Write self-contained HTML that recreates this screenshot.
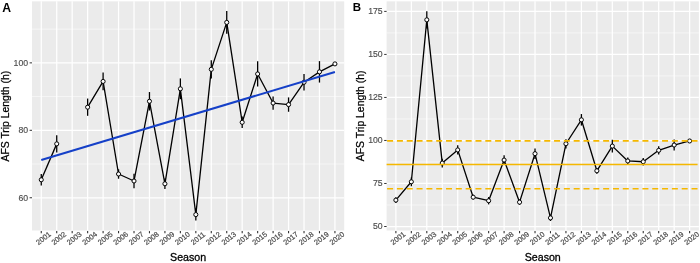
<!DOCTYPE html>
<html><head><meta charset="utf-8"><title>AFS Trip Length</title>
<style>html,body{margin:0;padding:0;background:#fff;}body{width:700px;height:263px;overflow:hidden;}svg{display:block;will-change:transform;}</style>
</head><body>
<svg width="700" height="263" viewBox="0 0 700 263">
<rect width="700" height="263" fill="#fff"/>
<rect x="32.00" y="1.35" width="312.20" height="229.15" fill="#EBEBEB"/>
<line x1="32.00" x2="344.20" y1="164.03" y2="164.03" stroke="#fff" stroke-width="0.55"/>
<line x1="32.00" x2="344.20" y1="96.59" y2="96.59" stroke="#fff" stroke-width="0.55"/>
<line x1="32.00" x2="344.20" y1="29.15" y2="29.15" stroke="#fff" stroke-width="0.55"/>
<line x1="32.00" x2="344.20" y1="197.75" y2="197.75" stroke="#fff" stroke-width="1.25"/>
<line x1="32.00" x2="344.20" y1="130.31" y2="130.31" stroke="#fff" stroke-width="1.25"/>
<line x1="32.00" x2="344.20" y1="62.87" y2="62.87" stroke="#fff" stroke-width="1.25"/>
<line x1="41.27" x2="41.27" y1="1.35" y2="230.50" stroke="#fff" stroke-width="1.25"/>
<line x1="56.73" x2="56.73" y1="1.35" y2="230.50" stroke="#fff" stroke-width="1.25"/>
<line x1="72.18" x2="72.18" y1="1.35" y2="230.50" stroke="#fff" stroke-width="1.25"/>
<line x1="87.64" x2="87.64" y1="1.35" y2="230.50" stroke="#fff" stroke-width="1.25"/>
<line x1="103.10" x2="103.10" y1="1.35" y2="230.50" stroke="#fff" stroke-width="1.25"/>
<line x1="118.55" x2="118.55" y1="1.35" y2="230.50" stroke="#fff" stroke-width="1.25"/>
<line x1="134.01" x2="134.01" y1="1.35" y2="230.50" stroke="#fff" stroke-width="1.25"/>
<line x1="149.46" x2="149.46" y1="1.35" y2="230.50" stroke="#fff" stroke-width="1.25"/>
<line x1="164.92" x2="164.92" y1="1.35" y2="230.50" stroke="#fff" stroke-width="1.25"/>
<line x1="180.37" x2="180.37" y1="1.35" y2="230.50" stroke="#fff" stroke-width="1.25"/>
<line x1="195.83" x2="195.83" y1="1.35" y2="230.50" stroke="#fff" stroke-width="1.25"/>
<line x1="211.28" x2="211.28" y1="1.35" y2="230.50" stroke="#fff" stroke-width="1.25"/>
<line x1="226.74" x2="226.74" y1="1.35" y2="230.50" stroke="#fff" stroke-width="1.25"/>
<line x1="242.19" x2="242.19" y1="1.35" y2="230.50" stroke="#fff" stroke-width="1.25"/>
<line x1="257.65" x2="257.65" y1="1.35" y2="230.50" stroke="#fff" stroke-width="1.25"/>
<line x1="273.10" x2="273.10" y1="1.35" y2="230.50" stroke="#fff" stroke-width="1.25"/>
<line x1="288.56" x2="288.56" y1="1.35" y2="230.50" stroke="#fff" stroke-width="1.25"/>
<line x1="304.02" x2="304.02" y1="1.35" y2="230.50" stroke="#fff" stroke-width="1.25"/>
<line x1="319.47" x2="319.47" y1="1.35" y2="230.50" stroke="#fff" stroke-width="1.25"/>
<line x1="334.93" x2="334.93" y1="1.35" y2="230.50" stroke="#fff" stroke-width="1.25"/>
<polyline points="41.27,179.78 56.73,143.87" fill="none" stroke="#000" stroke-width="1.3" stroke-linejoin="round"/>
<polyline points="87.64,107.18 103.10,81.42 118.55,174.01 134.01,180.99 149.46,101.28 164.92,183.79 180.37,88.80 195.83,214.61 211.28,69.34 226.74,22.41 242.19,122.32 257.65,73.93 273.10,103.06 288.56,104.58 304.02,82.26 319.47,71.84 334.93,63.88" fill="none" stroke="#000" stroke-width="1.3" stroke-linejoin="round"/>
<line x1="41.27" x2="41.27" y1="174.04" y2="185.51" stroke="#000" stroke-width="1.3"/>
<line x1="56.73" x2="56.73" y1="135.33" y2="152.40" stroke="#000" stroke-width="1.3"/>
<line x1="87.64" x2="87.64" y1="98.55" y2="115.81" stroke="#000" stroke-width="1.3"/>
<line x1="103.10" x2="103.10" y1="72.48" y2="90.35" stroke="#000" stroke-width="1.3"/>
<line x1="118.55" x2="118.55" y1="169.29" y2="178.73" stroke="#000" stroke-width="1.3"/>
<line x1="134.01" x2="134.01" y1="173.81" y2="188.17" stroke="#000" stroke-width="1.3"/>
<line x1="149.46" x2="149.46" y1="92.04" y2="110.52" stroke="#000" stroke-width="1.3"/>
<line x1="164.92" x2="164.92" y1="178.56" y2="189.02" stroke="#000" stroke-width="1.3"/>
<line x1="180.37" x2="180.37" y1="78.41" y2="99.19" stroke="#000" stroke-width="1.3"/>
<line x1="195.83" x2="195.83" y1="208.61" y2="220.61" stroke="#000" stroke-width="1.3"/>
<line x1="211.28" x2="211.28" y1="60.27" y2="78.41" stroke="#000" stroke-width="1.3"/>
<line x1="226.74" x2="226.74" y1="11.11" y2="33.70" stroke="#000" stroke-width="1.3"/>
<line x1="242.19" x2="242.19" y1="116.62" y2="128.02" stroke="#000" stroke-width="1.3"/>
<line x1="257.65" x2="257.65" y1="61.35" y2="86.51" stroke="#000" stroke-width="1.3"/>
<line x1="273.10" x2="273.10" y1="96.49" y2="109.64" stroke="#000" stroke-width="1.3"/>
<line x1="288.56" x2="288.56" y1="97.40" y2="111.76" stroke="#000" stroke-width="1.3"/>
<line x1="304.02" x2="304.02" y1="74.00" y2="90.52" stroke="#000" stroke-width="1.3"/>
<line x1="319.47" x2="319.47" y1="61.12" y2="82.56" stroke="#000" stroke-width="1.3"/>
<circle cx="41.27" cy="179.78" r="2.05" fill="#fff" stroke="#000" stroke-width="1"/>
<circle cx="56.73" cy="143.87" r="2.05" fill="#fff" stroke="#000" stroke-width="1"/>
<circle cx="87.64" cy="107.18" r="2.05" fill="#fff" stroke="#000" stroke-width="1"/>
<circle cx="103.10" cy="81.42" r="2.05" fill="#fff" stroke="#000" stroke-width="1"/>
<circle cx="118.55" cy="174.01" r="2.05" fill="#fff" stroke="#000" stroke-width="1"/>
<circle cx="134.01" cy="180.99" r="2.05" fill="#fff" stroke="#000" stroke-width="1"/>
<circle cx="149.46" cy="101.28" r="2.05" fill="#fff" stroke="#000" stroke-width="1"/>
<circle cx="164.92" cy="183.79" r="2.05" fill="#fff" stroke="#000" stroke-width="1"/>
<circle cx="180.37" cy="88.80" r="2.05" fill="#fff" stroke="#000" stroke-width="1"/>
<circle cx="195.83" cy="214.61" r="2.05" fill="#fff" stroke="#000" stroke-width="1"/>
<circle cx="211.28" cy="69.34" r="2.05" fill="#fff" stroke="#000" stroke-width="1"/>
<circle cx="226.74" cy="22.41" r="2.05" fill="#fff" stroke="#000" stroke-width="1"/>
<circle cx="242.19" cy="122.32" r="2.05" fill="#fff" stroke="#000" stroke-width="1"/>
<circle cx="257.65" cy="73.93" r="2.05" fill="#fff" stroke="#000" stroke-width="1"/>
<circle cx="273.10" cy="103.06" r="2.05" fill="#fff" stroke="#000" stroke-width="1"/>
<circle cx="288.56" cy="104.58" r="2.05" fill="#fff" stroke="#000" stroke-width="1"/>
<circle cx="304.02" cy="82.26" r="2.05" fill="#fff" stroke="#000" stroke-width="1"/>
<circle cx="319.47" cy="71.84" r="2.05" fill="#fff" stroke="#000" stroke-width="1"/>
<circle cx="334.93" cy="63.88" r="2.05" fill="#fff" stroke="#000" stroke-width="1"/>
<line x1="41.27" y1="160.05" x2="334.93" y2="71.95" stroke="#1540C8" stroke-width="2"/>
<line x1="29.60" x2="32.00" y1="197.75" y2="197.75" stroke="#333" stroke-width="1"/>
<text x="28.10" y="200.55" text-anchor="end" font-size="8.7" fill="#4D4D4D" stroke="#4D4D4D" stroke-width="0.15" font-family="Liberation Sans, sans-serif">60</text>
<line x1="29.60" x2="32.00" y1="130.31" y2="130.31" stroke="#333" stroke-width="1"/>
<text x="28.10" y="133.11" text-anchor="end" font-size="8.7" fill="#4D4D4D" stroke="#4D4D4D" stroke-width="0.15" font-family="Liberation Sans, sans-serif">80</text>
<line x1="29.60" x2="32.00" y1="62.87" y2="62.87" stroke="#333" stroke-width="1"/>
<text x="28.10" y="65.67" text-anchor="end" font-size="8.7" fill="#4D4D4D" stroke="#4D4D4D" stroke-width="0.15" font-family="Liberation Sans, sans-serif">100</text>
<line x1="41.27" x2="41.27" y1="231.10" y2="233.30" stroke="#333" stroke-width="1.1"/>
<text transform="translate(43.27,238.20) rotate(-38)" x="0" y="2.63" text-anchor="middle" font-size="7.4" fill="#4D4D4D" stroke="#4D4D4D" stroke-width="0.2" font-family="Liberation Sans, sans-serif">2001</text>
<line x1="56.73" x2="56.73" y1="231.10" y2="233.30" stroke="#333" stroke-width="1.1"/>
<text transform="translate(58.73,238.20) rotate(-38)" x="0" y="2.63" text-anchor="middle" font-size="7.4" fill="#4D4D4D" stroke="#4D4D4D" stroke-width="0.2" font-family="Liberation Sans, sans-serif">2002</text>
<line x1="72.18" x2="72.18" y1="231.10" y2="233.30" stroke="#333" stroke-width="1.1"/>
<text transform="translate(74.18,238.20) rotate(-38)" x="0" y="2.63" text-anchor="middle" font-size="7.4" fill="#4D4D4D" stroke="#4D4D4D" stroke-width="0.2" font-family="Liberation Sans, sans-serif">2003</text>
<line x1="87.64" x2="87.64" y1="231.10" y2="233.30" stroke="#333" stroke-width="1.1"/>
<text transform="translate(89.64,238.20) rotate(-38)" x="0" y="2.63" text-anchor="middle" font-size="7.4" fill="#4D4D4D" stroke="#4D4D4D" stroke-width="0.2" font-family="Liberation Sans, sans-serif">2004</text>
<line x1="103.10" x2="103.10" y1="231.10" y2="233.30" stroke="#333" stroke-width="1.1"/>
<text transform="translate(105.10,238.20) rotate(-38)" x="0" y="2.63" text-anchor="middle" font-size="7.4" fill="#4D4D4D" stroke="#4D4D4D" stroke-width="0.2" font-family="Liberation Sans, sans-serif">2005</text>
<line x1="118.55" x2="118.55" y1="231.10" y2="233.30" stroke="#333" stroke-width="1.1"/>
<text transform="translate(120.55,238.20) rotate(-38)" x="0" y="2.63" text-anchor="middle" font-size="7.4" fill="#4D4D4D" stroke="#4D4D4D" stroke-width="0.2" font-family="Liberation Sans, sans-serif">2006</text>
<line x1="134.01" x2="134.01" y1="231.10" y2="233.30" stroke="#333" stroke-width="1.1"/>
<text transform="translate(136.01,238.20) rotate(-38)" x="0" y="2.63" text-anchor="middle" font-size="7.4" fill="#4D4D4D" stroke="#4D4D4D" stroke-width="0.2" font-family="Liberation Sans, sans-serif">2007</text>
<line x1="149.46" x2="149.46" y1="231.10" y2="233.30" stroke="#333" stroke-width="1.1"/>
<text transform="translate(151.46,238.20) rotate(-38)" x="0" y="2.63" text-anchor="middle" font-size="7.4" fill="#4D4D4D" stroke="#4D4D4D" stroke-width="0.2" font-family="Liberation Sans, sans-serif">2008</text>
<line x1="164.92" x2="164.92" y1="231.10" y2="233.30" stroke="#333" stroke-width="1.1"/>
<text transform="translate(166.92,238.20) rotate(-38)" x="0" y="2.63" text-anchor="middle" font-size="7.4" fill="#4D4D4D" stroke="#4D4D4D" stroke-width="0.2" font-family="Liberation Sans, sans-serif">2009</text>
<line x1="180.37" x2="180.37" y1="231.10" y2="233.30" stroke="#333" stroke-width="1.1"/>
<text transform="translate(182.37,238.20) rotate(-38)" x="0" y="2.63" text-anchor="middle" font-size="7.4" fill="#4D4D4D" stroke="#4D4D4D" stroke-width="0.2" font-family="Liberation Sans, sans-serif">2010</text>
<line x1="195.83" x2="195.83" y1="231.10" y2="233.30" stroke="#333" stroke-width="1.1"/>
<text transform="translate(197.83,238.20) rotate(-38)" x="0" y="2.63" text-anchor="middle" font-size="7.4" fill="#4D4D4D" stroke="#4D4D4D" stroke-width="0.2" font-family="Liberation Sans, sans-serif">2011</text>
<line x1="211.28" x2="211.28" y1="231.10" y2="233.30" stroke="#333" stroke-width="1.1"/>
<text transform="translate(213.28,238.20) rotate(-38)" x="0" y="2.63" text-anchor="middle" font-size="7.4" fill="#4D4D4D" stroke="#4D4D4D" stroke-width="0.2" font-family="Liberation Sans, sans-serif">2012</text>
<line x1="226.74" x2="226.74" y1="231.10" y2="233.30" stroke="#333" stroke-width="1.1"/>
<text transform="translate(228.74,238.20) rotate(-38)" x="0" y="2.63" text-anchor="middle" font-size="7.4" fill="#4D4D4D" stroke="#4D4D4D" stroke-width="0.2" font-family="Liberation Sans, sans-serif">2013</text>
<line x1="242.19" x2="242.19" y1="231.10" y2="233.30" stroke="#333" stroke-width="1.1"/>
<text transform="translate(244.19,238.20) rotate(-38)" x="0" y="2.63" text-anchor="middle" font-size="7.4" fill="#4D4D4D" stroke="#4D4D4D" stroke-width="0.2" font-family="Liberation Sans, sans-serif">2014</text>
<line x1="257.65" x2="257.65" y1="231.10" y2="233.30" stroke="#333" stroke-width="1.1"/>
<text transform="translate(259.65,238.20) rotate(-38)" x="0" y="2.63" text-anchor="middle" font-size="7.4" fill="#4D4D4D" stroke="#4D4D4D" stroke-width="0.2" font-family="Liberation Sans, sans-serif">2015</text>
<line x1="273.10" x2="273.10" y1="231.10" y2="233.30" stroke="#333" stroke-width="1.1"/>
<text transform="translate(275.10,238.20) rotate(-38)" x="0" y="2.63" text-anchor="middle" font-size="7.4" fill="#4D4D4D" stroke="#4D4D4D" stroke-width="0.2" font-family="Liberation Sans, sans-serif">2016</text>
<line x1="288.56" x2="288.56" y1="231.10" y2="233.30" stroke="#333" stroke-width="1.1"/>
<text transform="translate(290.56,238.20) rotate(-38)" x="0" y="2.63" text-anchor="middle" font-size="7.4" fill="#4D4D4D" stroke="#4D4D4D" stroke-width="0.2" font-family="Liberation Sans, sans-serif">2017</text>
<line x1="304.02" x2="304.02" y1="231.10" y2="233.30" stroke="#333" stroke-width="1.1"/>
<text transform="translate(306.02,238.20) rotate(-38)" x="0" y="2.63" text-anchor="middle" font-size="7.4" fill="#4D4D4D" stroke="#4D4D4D" stroke-width="0.2" font-family="Liberation Sans, sans-serif">2018</text>
<line x1="319.47" x2="319.47" y1="231.10" y2="233.30" stroke="#333" stroke-width="1.1"/>
<text transform="translate(321.47,238.20) rotate(-38)" x="0" y="2.63" text-anchor="middle" font-size="7.4" fill="#4D4D4D" stroke="#4D4D4D" stroke-width="0.2" font-family="Liberation Sans, sans-serif">2019</text>
<line x1="334.93" x2="334.93" y1="231.10" y2="233.30" stroke="#333" stroke-width="1.1"/>
<text transform="translate(336.93,238.20) rotate(-38)" x="0" y="2.63" text-anchor="middle" font-size="7.4" fill="#4D4D4D" stroke="#4D4D4D" stroke-width="0.2" font-family="Liberation Sans, sans-serif">2020</text>
<text x="188.10" y="261.2" text-anchor="middle" font-size="10.65" fill="#000" stroke="#000" stroke-width="0.3" font-family="Liberation Sans, sans-serif">Season</text>
<rect x="386.60" y="1.35" width="312.30" height="229.15" fill="#EBEBEB"/>
<line x1="386.60" x2="698.90" y1="204.99" y2="204.99" stroke="#fff" stroke-width="0.55"/>
<line x1="386.60" x2="698.90" y1="161.97" y2="161.97" stroke="#fff" stroke-width="0.55"/>
<line x1="386.60" x2="698.90" y1="118.95" y2="118.95" stroke="#fff" stroke-width="0.55"/>
<line x1="386.60" x2="698.90" y1="75.93" y2="75.93" stroke="#fff" stroke-width="0.55"/>
<line x1="386.60" x2="698.90" y1="32.91" y2="32.91" stroke="#fff" stroke-width="0.55"/>
<line x1="386.60" x2="698.90" y1="226.50" y2="226.50" stroke="#fff" stroke-width="1.25"/>
<line x1="386.60" x2="698.90" y1="183.48" y2="183.48" stroke="#fff" stroke-width="1.25"/>
<line x1="386.60" x2="698.90" y1="140.46" y2="140.46" stroke="#fff" stroke-width="1.25"/>
<line x1="386.60" x2="698.90" y1="97.44" y2="97.44" stroke="#fff" stroke-width="1.25"/>
<line x1="386.60" x2="698.90" y1="54.42" y2="54.42" stroke="#fff" stroke-width="1.25"/>
<line x1="386.60" x2="698.90" y1="11.40" y2="11.40" stroke="#fff" stroke-width="1.25"/>
<line x1="395.88" x2="395.88" y1="1.35" y2="230.50" stroke="#fff" stroke-width="1.25"/>
<line x1="411.34" x2="411.34" y1="1.35" y2="230.50" stroke="#fff" stroke-width="1.25"/>
<line x1="426.80" x2="426.80" y1="1.35" y2="230.50" stroke="#fff" stroke-width="1.25"/>
<line x1="442.26" x2="442.26" y1="1.35" y2="230.50" stroke="#fff" stroke-width="1.25"/>
<line x1="457.72" x2="457.72" y1="1.35" y2="230.50" stroke="#fff" stroke-width="1.25"/>
<line x1="473.18" x2="473.18" y1="1.35" y2="230.50" stroke="#fff" stroke-width="1.25"/>
<line x1="488.64" x2="488.64" y1="1.35" y2="230.50" stroke="#fff" stroke-width="1.25"/>
<line x1="504.10" x2="504.10" y1="1.35" y2="230.50" stroke="#fff" stroke-width="1.25"/>
<line x1="519.56" x2="519.56" y1="1.35" y2="230.50" stroke="#fff" stroke-width="1.25"/>
<line x1="535.02" x2="535.02" y1="1.35" y2="230.50" stroke="#fff" stroke-width="1.25"/>
<line x1="550.48" x2="550.48" y1="1.35" y2="230.50" stroke="#fff" stroke-width="1.25"/>
<line x1="565.94" x2="565.94" y1="1.35" y2="230.50" stroke="#fff" stroke-width="1.25"/>
<line x1="581.40" x2="581.40" y1="1.35" y2="230.50" stroke="#fff" stroke-width="1.25"/>
<line x1="596.86" x2="596.86" y1="1.35" y2="230.50" stroke="#fff" stroke-width="1.25"/>
<line x1="612.32" x2="612.32" y1="1.35" y2="230.50" stroke="#fff" stroke-width="1.25"/>
<line x1="627.78" x2="627.78" y1="1.35" y2="230.50" stroke="#fff" stroke-width="1.25"/>
<line x1="643.24" x2="643.24" y1="1.35" y2="230.50" stroke="#fff" stroke-width="1.25"/>
<line x1="658.70" x2="658.70" y1="1.35" y2="230.50" stroke="#fff" stroke-width="1.25"/>
<line x1="674.16" x2="674.16" y1="1.35" y2="230.50" stroke="#fff" stroke-width="1.25"/>
<line x1="689.62" x2="689.62" y1="1.35" y2="230.50" stroke="#fff" stroke-width="1.25"/>
<polyline points="395.88,200.12 411.34,181.79 426.80,19.83 442.26,163.07 457.72,149.92 473.18,197.18 488.64,200.74 504.10,160.06 519.56,202.17 535.02,153.69 550.48,217.90 565.94,143.76 581.40,119.81 596.86,170.80 612.32,146.10 627.78,160.97 643.24,161.75 658.70,150.35 674.16,145.04 689.62,140.98" fill="none" stroke="#000" stroke-width="1.3" stroke-linejoin="round"/>
<line x1="395.88" x2="395.88" y1="197.19" y2="203.05" stroke="#000" stroke-width="1.3"/>
<line x1="411.34" x2="411.34" y1="177.44" y2="186.15" stroke="#000" stroke-width="1.3"/>
<line x1="426.80" x2="426.80" y1="11.23" y2="28.44" stroke="#000" stroke-width="1.3"/>
<line x1="442.26" x2="442.26" y1="158.67" y2="167.48" stroke="#000" stroke-width="1.3"/>
<line x1="457.72" x2="457.72" y1="145.36" y2="154.48" stroke="#000" stroke-width="1.3"/>
<line x1="473.18" x2="473.18" y1="194.77" y2="199.59" stroke="#000" stroke-width="1.3"/>
<line x1="488.64" x2="488.64" y1="197.07" y2="204.40" stroke="#000" stroke-width="1.3"/>
<line x1="504.10" x2="504.10" y1="155.34" y2="164.77" stroke="#000" stroke-width="1.3"/>
<line x1="519.56" x2="519.56" y1="199.50" y2="204.84" stroke="#000" stroke-width="1.3"/>
<line x1="535.02" x2="535.02" y1="148.39" y2="158.99" stroke="#000" stroke-width="1.3"/>
<line x1="550.48" x2="550.48" y1="214.83" y2="220.96" stroke="#000" stroke-width="1.3"/>
<line x1="565.94" x2="565.94" y1="139.13" y2="148.39" stroke="#000" stroke-width="1.3"/>
<line x1="581.40" x2="581.40" y1="114.05" y2="125.58" stroke="#000" stroke-width="1.3"/>
<line x1="596.86" x2="596.86" y1="167.89" y2="173.71" stroke="#000" stroke-width="1.3"/>
<line x1="612.32" x2="612.32" y1="139.69" y2="152.52" stroke="#000" stroke-width="1.3"/>
<line x1="627.78" x2="627.78" y1="157.62" y2="164.33" stroke="#000" stroke-width="1.3"/>
<line x1="643.24" x2="643.24" y1="158.08" y2="165.41" stroke="#000" stroke-width="1.3"/>
<line x1="658.70" x2="658.70" y1="146.14" y2="154.57" stroke="#000" stroke-width="1.3"/>
<line x1="674.16" x2="674.16" y1="139.57" y2="150.51" stroke="#000" stroke-width="1.3"/>
<circle cx="395.88" cy="200.12" r="2.05" fill="#fff" stroke="#000" stroke-width="1"/>
<circle cx="411.34" cy="181.79" r="2.05" fill="#fff" stroke="#000" stroke-width="1"/>
<circle cx="426.80" cy="19.83" r="2.05" fill="#fff" stroke="#000" stroke-width="1"/>
<circle cx="442.26" cy="163.07" r="2.05" fill="#fff" stroke="#000" stroke-width="1"/>
<circle cx="457.72" cy="149.92" r="2.05" fill="#fff" stroke="#000" stroke-width="1"/>
<circle cx="473.18" cy="197.18" r="2.05" fill="#fff" stroke="#000" stroke-width="1"/>
<circle cx="488.64" cy="200.74" r="2.05" fill="#fff" stroke="#000" stroke-width="1"/>
<circle cx="504.10" cy="160.06" r="2.05" fill="#fff" stroke="#000" stroke-width="1"/>
<circle cx="519.56" cy="202.17" r="2.05" fill="#fff" stroke="#000" stroke-width="1"/>
<circle cx="535.02" cy="153.69" r="2.05" fill="#fff" stroke="#000" stroke-width="1"/>
<circle cx="550.48" cy="217.90" r="2.05" fill="#fff" stroke="#000" stroke-width="1"/>
<circle cx="565.94" cy="143.76" r="2.05" fill="#fff" stroke="#000" stroke-width="1"/>
<circle cx="581.40" cy="119.81" r="2.05" fill="#fff" stroke="#000" stroke-width="1"/>
<circle cx="596.86" cy="170.80" r="2.05" fill="#fff" stroke="#000" stroke-width="1"/>
<circle cx="612.32" cy="146.10" r="2.05" fill="#fff" stroke="#000" stroke-width="1"/>
<circle cx="627.78" cy="160.97" r="2.05" fill="#fff" stroke="#000" stroke-width="1"/>
<circle cx="643.24" cy="161.75" r="2.05" fill="#fff" stroke="#000" stroke-width="1"/>
<circle cx="658.70" cy="150.35" r="2.05" fill="#fff" stroke="#000" stroke-width="1"/>
<circle cx="674.16" cy="145.04" r="2.05" fill="#fff" stroke="#000" stroke-width="1"/>
<circle cx="689.62" cy="140.98" r="2.05" fill="#fff" stroke="#000" stroke-width="1"/>
<line x1="386.60" x2="697.60" y1="140.89" y2="140.89" stroke="#F5B800" stroke-width="1.6" stroke-dasharray="6.0 3.82" stroke-dashoffset="-0.5"/>
<line x1="386.60" x2="697.60" y1="164.47" y2="164.47" stroke="#F5B800" stroke-width="1.6"/>
<line x1="386.60" x2="697.60" y1="188.81" y2="188.81" stroke="#F5B800" stroke-width="1.6" stroke-dasharray="6.0 3.82" stroke-dashoffset="-0.5"/>
<line x1="384.20" x2="386.60" y1="226.50" y2="226.50" stroke="#333" stroke-width="1"/>
<text x="382.70" y="229.30" text-anchor="end" font-size="8.7" fill="#4D4D4D" stroke="#4D4D4D" stroke-width="0.15" font-family="Liberation Sans, sans-serif">50</text>
<line x1="384.20" x2="386.60" y1="183.48" y2="183.48" stroke="#333" stroke-width="1"/>
<text x="382.70" y="186.28" text-anchor="end" font-size="8.7" fill="#4D4D4D" stroke="#4D4D4D" stroke-width="0.15" font-family="Liberation Sans, sans-serif">75</text>
<line x1="384.20" x2="386.60" y1="140.46" y2="140.46" stroke="#333" stroke-width="1"/>
<text x="382.70" y="143.26" text-anchor="end" font-size="8.7" fill="#4D4D4D" stroke="#4D4D4D" stroke-width="0.15" font-family="Liberation Sans, sans-serif">100</text>
<line x1="384.20" x2="386.60" y1="97.44" y2="97.44" stroke="#333" stroke-width="1"/>
<text x="382.70" y="100.24" text-anchor="end" font-size="8.7" fill="#4D4D4D" stroke="#4D4D4D" stroke-width="0.15" font-family="Liberation Sans, sans-serif">125</text>
<line x1="384.20" x2="386.60" y1="54.42" y2="54.42" stroke="#333" stroke-width="1"/>
<text x="382.70" y="57.22" text-anchor="end" font-size="8.7" fill="#4D4D4D" stroke="#4D4D4D" stroke-width="0.15" font-family="Liberation Sans, sans-serif">150</text>
<line x1="384.20" x2="386.60" y1="11.40" y2="11.40" stroke="#333" stroke-width="1"/>
<text x="382.70" y="14.20" text-anchor="end" font-size="8.7" fill="#4D4D4D" stroke="#4D4D4D" stroke-width="0.15" font-family="Liberation Sans, sans-serif">175</text>
<line x1="395.88" x2="395.88" y1="231.10" y2="233.30" stroke="#333" stroke-width="1.1"/>
<text transform="translate(397.88,238.20) rotate(-38)" x="0" y="2.63" text-anchor="middle" font-size="7.4" fill="#4D4D4D" stroke="#4D4D4D" stroke-width="0.2" font-family="Liberation Sans, sans-serif">2001</text>
<line x1="411.34" x2="411.34" y1="231.10" y2="233.30" stroke="#333" stroke-width="1.1"/>
<text transform="translate(413.34,238.20) rotate(-38)" x="0" y="2.63" text-anchor="middle" font-size="7.4" fill="#4D4D4D" stroke="#4D4D4D" stroke-width="0.2" font-family="Liberation Sans, sans-serif">2002</text>
<line x1="426.80" x2="426.80" y1="231.10" y2="233.30" stroke="#333" stroke-width="1.1"/>
<text transform="translate(428.80,238.20) rotate(-38)" x="0" y="2.63" text-anchor="middle" font-size="7.4" fill="#4D4D4D" stroke="#4D4D4D" stroke-width="0.2" font-family="Liberation Sans, sans-serif">2003</text>
<line x1="442.26" x2="442.26" y1="231.10" y2="233.30" stroke="#333" stroke-width="1.1"/>
<text transform="translate(444.26,238.20) rotate(-38)" x="0" y="2.63" text-anchor="middle" font-size="7.4" fill="#4D4D4D" stroke="#4D4D4D" stroke-width="0.2" font-family="Liberation Sans, sans-serif">2004</text>
<line x1="457.72" x2="457.72" y1="231.10" y2="233.30" stroke="#333" stroke-width="1.1"/>
<text transform="translate(459.72,238.20) rotate(-38)" x="0" y="2.63" text-anchor="middle" font-size="7.4" fill="#4D4D4D" stroke="#4D4D4D" stroke-width="0.2" font-family="Liberation Sans, sans-serif">2005</text>
<line x1="473.18" x2="473.18" y1="231.10" y2="233.30" stroke="#333" stroke-width="1.1"/>
<text transform="translate(475.18,238.20) rotate(-38)" x="0" y="2.63" text-anchor="middle" font-size="7.4" fill="#4D4D4D" stroke="#4D4D4D" stroke-width="0.2" font-family="Liberation Sans, sans-serif">2006</text>
<line x1="488.64" x2="488.64" y1="231.10" y2="233.30" stroke="#333" stroke-width="1.1"/>
<text transform="translate(490.64,238.20) rotate(-38)" x="0" y="2.63" text-anchor="middle" font-size="7.4" fill="#4D4D4D" stroke="#4D4D4D" stroke-width="0.2" font-family="Liberation Sans, sans-serif">2007</text>
<line x1="504.10" x2="504.10" y1="231.10" y2="233.30" stroke="#333" stroke-width="1.1"/>
<text transform="translate(506.10,238.20) rotate(-38)" x="0" y="2.63" text-anchor="middle" font-size="7.4" fill="#4D4D4D" stroke="#4D4D4D" stroke-width="0.2" font-family="Liberation Sans, sans-serif">2008</text>
<line x1="519.56" x2="519.56" y1="231.10" y2="233.30" stroke="#333" stroke-width="1.1"/>
<text transform="translate(521.56,238.20) rotate(-38)" x="0" y="2.63" text-anchor="middle" font-size="7.4" fill="#4D4D4D" stroke="#4D4D4D" stroke-width="0.2" font-family="Liberation Sans, sans-serif">2009</text>
<line x1="535.02" x2="535.02" y1="231.10" y2="233.30" stroke="#333" stroke-width="1.1"/>
<text transform="translate(537.02,238.20) rotate(-38)" x="0" y="2.63" text-anchor="middle" font-size="7.4" fill="#4D4D4D" stroke="#4D4D4D" stroke-width="0.2" font-family="Liberation Sans, sans-serif">2010</text>
<line x1="550.48" x2="550.48" y1="231.10" y2="233.30" stroke="#333" stroke-width="1.1"/>
<text transform="translate(552.48,238.20) rotate(-38)" x="0" y="2.63" text-anchor="middle" font-size="7.4" fill="#4D4D4D" stroke="#4D4D4D" stroke-width="0.2" font-family="Liberation Sans, sans-serif">2011</text>
<line x1="565.94" x2="565.94" y1="231.10" y2="233.30" stroke="#333" stroke-width="1.1"/>
<text transform="translate(567.94,238.20) rotate(-38)" x="0" y="2.63" text-anchor="middle" font-size="7.4" fill="#4D4D4D" stroke="#4D4D4D" stroke-width="0.2" font-family="Liberation Sans, sans-serif">2012</text>
<line x1="581.40" x2="581.40" y1="231.10" y2="233.30" stroke="#333" stroke-width="1.1"/>
<text transform="translate(583.40,238.20) rotate(-38)" x="0" y="2.63" text-anchor="middle" font-size="7.4" fill="#4D4D4D" stroke="#4D4D4D" stroke-width="0.2" font-family="Liberation Sans, sans-serif">2013</text>
<line x1="596.86" x2="596.86" y1="231.10" y2="233.30" stroke="#333" stroke-width="1.1"/>
<text transform="translate(598.86,238.20) rotate(-38)" x="0" y="2.63" text-anchor="middle" font-size="7.4" fill="#4D4D4D" stroke="#4D4D4D" stroke-width="0.2" font-family="Liberation Sans, sans-serif">2014</text>
<line x1="612.32" x2="612.32" y1="231.10" y2="233.30" stroke="#333" stroke-width="1.1"/>
<text transform="translate(614.32,238.20) rotate(-38)" x="0" y="2.63" text-anchor="middle" font-size="7.4" fill="#4D4D4D" stroke="#4D4D4D" stroke-width="0.2" font-family="Liberation Sans, sans-serif">2015</text>
<line x1="627.78" x2="627.78" y1="231.10" y2="233.30" stroke="#333" stroke-width="1.1"/>
<text transform="translate(629.78,238.20) rotate(-38)" x="0" y="2.63" text-anchor="middle" font-size="7.4" fill="#4D4D4D" stroke="#4D4D4D" stroke-width="0.2" font-family="Liberation Sans, sans-serif">2016</text>
<line x1="643.24" x2="643.24" y1="231.10" y2="233.30" stroke="#333" stroke-width="1.1"/>
<text transform="translate(645.24,238.20) rotate(-38)" x="0" y="2.63" text-anchor="middle" font-size="7.4" fill="#4D4D4D" stroke="#4D4D4D" stroke-width="0.2" font-family="Liberation Sans, sans-serif">2017</text>
<line x1="658.70" x2="658.70" y1="231.10" y2="233.30" stroke="#333" stroke-width="1.1"/>
<text transform="translate(660.70,238.20) rotate(-38)" x="0" y="2.63" text-anchor="middle" font-size="7.4" fill="#4D4D4D" stroke="#4D4D4D" stroke-width="0.2" font-family="Liberation Sans, sans-serif">2018</text>
<line x1="674.16" x2="674.16" y1="231.10" y2="233.30" stroke="#333" stroke-width="1.1"/>
<text transform="translate(676.16,238.20) rotate(-38)" x="0" y="2.63" text-anchor="middle" font-size="7.4" fill="#4D4D4D" stroke="#4D4D4D" stroke-width="0.2" font-family="Liberation Sans, sans-serif">2019</text>
<line x1="689.62" x2="689.62" y1="231.10" y2="233.30" stroke="#333" stroke-width="1.1"/>
<text transform="translate(691.62,238.20) rotate(-38)" x="0" y="2.63" text-anchor="middle" font-size="7.4" fill="#4D4D4D" stroke="#4D4D4D" stroke-width="0.2" font-family="Liberation Sans, sans-serif">2020</text>
<text x="542.75" y="261.2" text-anchor="middle" font-size="10.65" fill="#000" stroke="#000" stroke-width="0.3" font-family="Liberation Sans, sans-serif">Season</text>
<text transform="translate(9.4,116.2) rotate(-90)" text-anchor="middle" font-size="10.4" fill="#000" stroke="#000" stroke-width="0.25" font-family="Liberation Sans, sans-serif">AFS Trip Length (h)</text>
<text transform="translate(363.5,115.9) rotate(-90)" text-anchor="middle" font-size="10.4" fill="#000" stroke="#000" stroke-width="0.25" font-family="Liberation Sans, sans-serif">AFS Trip Length (h)</text>
<text x="2.2" y="11.5" font-size="12.2" font-weight="bold" fill="#000" font-family="Liberation Sans, sans-serif">A</text>
<text x="352.7" y="11.3" font-size="11.5" font-weight="bold" fill="#000" font-family="Liberation Sans, sans-serif">B</text>
</svg>
</body></html>
